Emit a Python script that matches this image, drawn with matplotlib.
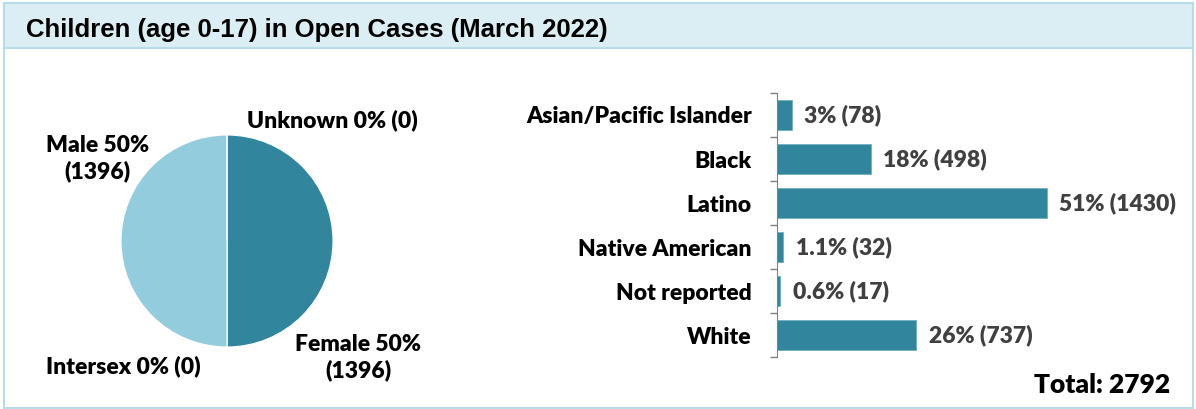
import matplotlib
matplotlib.use("Agg")
import matplotlib.pyplot as plt
from matplotlib.patches import Rectangle

# ---------------- data ----------------
title = "Children (age 0-17) in Open Cases (March 2022)"

sex_labels = ["Female", "Intersex", "Male", "Unknown"]
sex_counts = [1396, 0, 1396, 0]
sex_pct = ["50%", "0%", "50%", "0%"]

race_labels = ["Asian/Pacific Islander", "Black", "Latino", "Native American", "Not reported", "White"]
race_counts = [78, 498, 1430, 32, 17, 737]
race_pct = ["3%", "18%", "51%", "1.1%", "0.6%", "26%"]
total = 2792

dark = "#31859c"
light = "#93cddd"
W, H = 1196, 409

fig = plt.figure(figsize=(W / 100, H / 100), dpi=100)
fig.patch.set_facecolor("white")

# outer box + title band
fig.add_artist(Rectangle((4 / W, 1 / H), 1189 / W, 405 / H, transform=fig.transFigure,
                         facecolor="none", edgecolor="#b7dde8", lw=1.5))
fig.add_artist(Rectangle((4 / W, 1 - 48 / H), 1189 / W, 45 / H, transform=fig.transFigure,
                         facecolor="#daeef3", edgecolor="#b7dde8", lw=1.5))
fig.text(26 / W, 1 - 30 / H, title, family="Liberation Sans", weight="bold",
         fontsize=18.5, va="center", ha="left", color="black")

lab_font = dict(family="Lato", weight="heavy", fontsize=16.5)

# ---------------- pie ----------------
cx, cy, r = 227, 241, 106
half = 160
axp = fig.add_axes([(cx - half) / W, 1 - (cy + half) / H, 2 * half / W, 2 * half / H])
axp.pie(sex_counts, colors=[dark, dark, light, light], startangle=90, counterclock=False,
        wedgeprops=dict(edgecolor="white", linewidth=0.8))
lim = half / r
axp.set_xlim(-lim, lim)
axp.set_ylim(-lim, lim)
axp.set_aspect("equal")

# label spots (in pie radius units), placed like the original
spots = {"Unknown": (0.99, 1.14), "Male": (-1.22, 0.78), "Female": (1.24, -1.10), "Intersex": (-0.98, -1.18)}
for name, n, p in zip(sex_labels, sex_counts, sex_pct):
    if n > 0:
        txt = f"{name} {p}\n({n})"
    else:
        txt = f"{name} {p} ({n})"
    x, y = spots[name]
    axp.text(x, y, txt, ha="center", va="center", color="black", linespacing=1.25,
             clip_on=False, **lab_font)

# ---------------- bars ----------------
axb = fig.add_axes([777 / W, 1 - 357 / H, 302 / W, 264 / H])
ypos = list(range(len(race_labels)))
axb.barh(ypos, race_counts, height=0.66, color=dark, edgecolor="#6fb0c2", linewidth=0.6)
axb.set_xlim(0, 1600)
axb.set_ylim(len(race_labels) - 0.5, -0.5)
axb.set_xticks([])
axb.set_yticks([i - 0.5 for i in range(len(race_labels) + 1)])
axb.set_yticklabels([])
axb.set_yticks(ypos, minor=True)
axb.set_yticklabels(race_labels, minor=True, **lab_font)
axb.tick_params(axis="y", which="major", length=5, color="#808080", width=1)
axb.tick_params(axis="y", which="minor", length=0, pad=18)
for s in ["top", "right", "bottom"]:
    axb.spines[s].set_visible(False)
axb.spines["left"].set_color("#808080")

for y, n, p in zip(ypos, race_counts, race_pct):
    axb.annotate(f"{p} ({n})", (n, y), xytext=(9, 0), textcoords="offset points",
                 va="center", ha="left", color="#404040", **lab_font)

fig.text(1170 / W, 1 - 385 / H, f"Total: {total}", ha="right", va="center",
         family="Lato", weight="heavy", fontsize=19, color="black")

fig.savefig("out.png", dpi=100)
